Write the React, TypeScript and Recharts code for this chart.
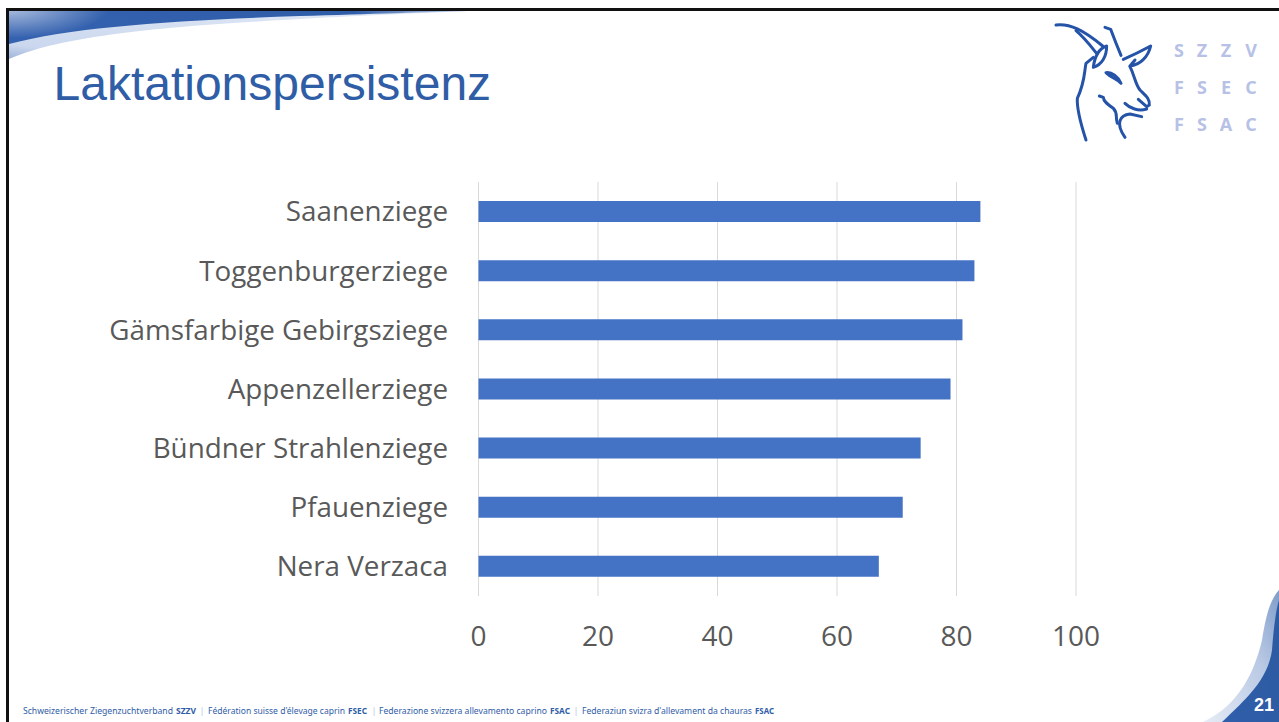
import { BarChart, Bar, XAxis, YAxis, CartesianGrid } from "recharts";

const breeds = [
  "Saanenziege",
  "Toggenburgerziege",
  "Gämsfarbige Gebirgsziege",
  "Appenzellerziege",
  "Bündner Strahlenziege",
  "Pfauenziege",
  "Nera Verzaca",
];
const persistence = [84, 83, 81, 79, 74, 71, 67];
const xTicks = [0, 20, 40, 60, 80, 100];

const data = breeds.map((name, i) => ({ name, value: persistence[i] }));

const FONT = "'Open Sans', sans-serif";

// footer pieces: text, left edge, width, bold
const footerParts: [string, number, number, boolean][] = [
  ["Schweizerischer Ziegenzuchtverband", 23, 150, false],
  ["SZZV", 176, 20, true],
  ["|", 201, 2, false],
  ["Fédération suisse d'élevage caprin", 208, 137, false],
  ["FSEC", 348, 19, true],
  ["|", 373, 2, false],
  ["Federazione svizzera allevamento caprino", 379, 168, false],
  ["FSAC", 550, 20, true],
  ["|", 575, 2, false],
  ["Federaziun svizra d'allevament da chauras", 582, 170, false],
  ["FSAC", 755, 19, true],
];

// slide frame, swooshes, logo and footer, everything that isn't the chart
function SlideChrome() {
  return (
    <svg
      width={1279}
      height={722}
      style={{ position: "absolute", left: 0, top: 0 }}
    >
      <defs>
        <linearGradient id="topDark" x1="0" y1="0" x2="1" y2="0">
          <stop offset="0" stopColor="#3562B0" />
          <stop offset="0.75" stopColor="#2F5DA8" />
          <stop offset="1" stopColor="#C9D6EC" />
        </linearGradient>
        <radialGradient
          id="topShade"
          gradientUnits="userSpaceOnUse"
          cx={9}
          cy={8}
          r={100}
          gradientTransform="translate(9 8) scale(1 0.3) translate(-9 -8)"
        >
          <stop offset="0" stopColor="#fff" stopOpacity="0.6" />
          <stop offset="1" stopColor="#fff" stopOpacity="0" />
        </radialGradient>
        <linearGradient id="topLight" x1="0" y1="1" x2="1" y2="0">
          <stop offset="0" stopColor="#9FB4DA" />
          <stop offset="0.15" stopColor="#CAD7EE" />
          <stop offset="1" stopColor="#E3EAF6" />
        </linearGradient>
        <linearGradient id="cornerLight" x1="0" y1="1" x2="1" y2="0">
          <stop offset="0" stopColor="#E6ECF6" />
          <stop offset="0.6" stopColor="#B9C9E4" />
          <stop offset="1" stopColor="#7F9CCB" />
        </linearGradient>
        <linearGradient id="cornerDark" x1="0" y1="1" x2="1" y2="0">
          <stop offset="0" stopColor="#2F5EAB" />
          <stop offset="1" stopColor="#2D5A9F" />
        </linearGradient>
      </defs>

      <path
        d="M9 59 C60 37 150 27 300 19 C370 15 430 13 468 11 L9 11 Z"
        fill="url(#topLight)"
      />
      <path
        d="M9 44 C70 27 180 20 300 16 C370 14 430 12 468 11 L9 11 Z"
        fill="url(#topDark)"
      />
      <path
        d="M9 44 C70 27 180 20 300 16 L300 11 L9 11 Z"
        fill="url(#topShade)"
      />

      <rect x={6} y={8} width={3} height={714} fill="#111" />
      <rect x={6} y={8} width={1273} height={3} fill="#111" />

      <text
        x={53.5}
        y={100}
        fontFamily="'Liberation Sans', Arial, sans-serif"
        fontSize={48}
        fill="#2F5DA6"
      >
        Laktationspersistenz
      </text>

      <g
        transform="translate(1040 10) scale(0.3333)"
        fill="none"
        stroke="#2453A8"
        strokeWidth={9}
        strokeLinecap="round"
        strokeLinejoin="round"
      >
        <path d="M48 45 C90 40 130 60 188 108" />
        <path d="M108 62 C130 80 150 105 168 128" />
        <path d="M195 52 L212 58 C222 85 232 110 243 136" />
        <path d="M200 108 C180 115 165 130 160 172 C185 165 200 140 200 108 Z" />
        <path d="M160 142 L138 160 C132 190 135 215 112 265 C110 300 125 350 138 390" />
        <path d="M250 148 C280 135 310 120 332 108 C325 140 300 165 270 168 L285 150" />
        <path d="M270 170 C285 200 285 220 300 240 C315 255 330 265 328 285 L320 290 L295 268" />
        <path d="M198 188 C215 185 235 200 243 220 C230 205 215 205 198 188 Z" />
        <path d="M255 280 C270 295 295 305 320 297" />
        <path d="M178 258 L190 262 C190 275 205 285 220 295 C235 310 225 320 232 340" />
        <path d="M255 382 C225 340 240 315 270 312 L305 320" />
      </g>

      <g
        fontFamily={FONT}
        fontWeight={700}
        fontSize={18}
        fill="#B7C1E6"
        textAnchor="middle"
      >
        {[
          ["S", "Z", "Z", "V", 57],
          ["F", "S", "E", "C", 94],
          ["F", "S", "A", "C", 131],
        ].map((row) =>
          [1179, 1202, 1226, 1251].map((x, i) => (
            <text key={`${row[4]}-${i}`} x={x} y={row[4] as number}>
              {row[i]}
            </text>
          ))
        )}
      </g>

      <g fontFamily="'Noto Sans', sans-serif" fontSize={8} fill="#2F5DA6">
        {footerParts.map(([label, x, w, bold], i) => (
          <text
            key={i}
            x={x}
            y={714}
            fontWeight={bold ? 700 : 400}
            textLength={w}
            lengthAdjust="spacingAndGlyphs"
          >
            {label}
          </text>
        ))}
      </g>

      <path
        d="M1203 722 C1240 705 1255 670 1262 640 C1266 615 1270 600 1279 590 L1279 722 Z"
        fill="url(#cornerLight)"
      />
      <path
        d="M1222 722 C1245 700 1268 680 1272 650 C1274 625 1276 610 1279 600 L1279 722 Z"
        fill="url(#cornerDark)"
      />
      <text
        x={1254}
        y={711}
        fontFamily="'Liberation Sans', Arial, sans-serif"
        fontWeight={700}
        fontSize={18}
        fill="#fff"
      >
        21
      </text>
    </svg>
  );
}

export default function App() {
  return (
    <div
      style={{
        position: "absolute",
        left: 0,
        top: 0,
        width: 1279,
        height: 722,
        background: "#fff",
        overflow: "hidden",
      }}
    >
      <SlideChrome />
      <div style={{ position: "absolute", left: 0, top: 0 }}>
        <BarChart
          width={1279}
          height={722}
          data={data}
          layout="vertical"
          margin={{ top: 182, right: 203, bottom: 0, left: 0 }}
          barCategoryGap="32%"
        >
          <CartesianGrid
            horizontal={false}
            stroke="#D9D9D9"
            strokeWidth={1}
          />
          <XAxis
            type="number"
            domain={[0, 100]}
            ticks={xTicks}
            axisLine={false}
            tickLine={false}
            height={126}
            tickMargin={24}
            tick={{ fill: "#595959", fontSize: 28, fontFamily: FONT }}
            interval={0}
          />
          <YAxis
            type="category"
            dataKey="name"
            width={478.5}
            axisLine={false}
            tickLine={false}
            tickSize={0}
            tickMargin={30.5}
            interval={0}
            tick={{ fill: "#595959", fontSize: 27.8, fontFamily: FONT }}
          />
          <Bar
            dataKey="value"
            fill="#4472C4"
            barSize={21}
            isAnimationActive={false}
          />
        </BarChart>
      </div>
    </div>
  );
}
